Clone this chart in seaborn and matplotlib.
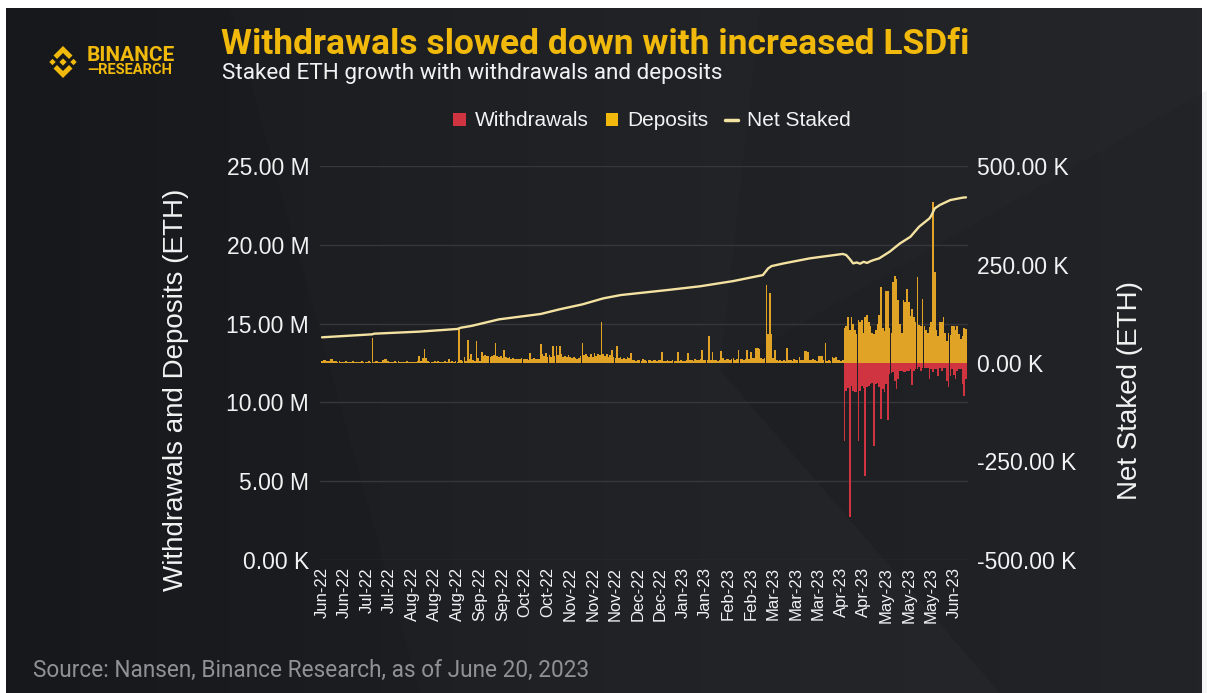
import numpy as np
import pandas as pd
import matplotlib
matplotlib.use("Agg")
import matplotlib.pyplot as plt
from matplotlib.patches import Polygon, Patch
from matplotlib.lines import Line2D
from matplotlib.colors import LinearSegmentedColormap
import seaborn as sns

# ---------------------------------------------------------------- data
start_date = "2022-06-14"
end_date = "2023-06-20"
withdrawals_start = "2023-04-11"

# daily deposits, thousand ETH (Jun 14, 2022 -> Jun 20, 2023)
deposits_k = [
    # Jun 14 - Jul 13
    6, 7, 8, 5, 4, 9, 10, 6, 5, 3, 4, 3, 2, 3, 4, 3, 2, 3, 4, 2,
    3, 3, 2, 4, 3, 2, 3, 4, 3, 63,
    # Jul 14 - Aug 12
    3, 4, 5, 2, 3, 8, 10, 9, 4, 3, 2, 3, 5, 3, 4, 3, 2, 3, 2, 4,
    3, 2, 3, 2, 3, 4, 17, 6, 12, 35,
    # Aug 13 - Sep 1
    12, 4, 3, 2, 3, 5, 3, 4, 3, 2, 3, 4, 3, 11, 3, 4, 3, 5, 2, 89,
    # Sep 2 - Sep 22
    8, 5, 15, 6, 58, 10, 23, 8, 6, 55, 12, 6, 27, 18, 20, 17, 19, 15, 18, 20,
    52,
    # Sep 23 - Nov 1
    18, 15, 17, 12, 32, 14, 12, 16, 10, 12, 9, 10, 11, 9, 12, 10, 11, 9, 8, 25,
    10, 12, 11, 9, 10, 49, 22, 18, 25, 16, 20, 14, 44, 18, 44, 20, 42, 22, 15, 18,
    # Nov 2 - Dec 1
    16, 20, 14, 12, 16, 12, 10, 13, 18, 51, 20, 24, 18, 14, 22, 16, 25, 18, 22, 20,
    103, 24, 18, 22, 15, 20, 33, 14, 12, 44,
    # Dec 2 - Jan 10
    12, 14, 10, 13, 11, 15, 12, 25, 8, 7, 6, 8, 7, 6, 9, 7, 6, 8, 7, 6,
    8, 7, 6, 7, 8, 27, 6, 5, 7, 6, 5, 8, 6, 5, 27, 6, 7, 5, 6, 8,
    # Jan 11 - Feb 19
    25, 7, 8, 6, 9, 7, 8, 9, 33, 8, 7, 8, 69, 8, 28, 7, 8, 6, 7, 30,
    12, 8, 10, 11, 7, 9, 12, 8, 9, 33, 9, 11, 8, 10, 33, 10, 28, 13, 12, 38,
    # Feb 20 - Apr 10
    38, 35, 12, 10, 12, 198, 74, 178, 74, 12, 33, 7, 6, 8, 5, 7, 6, 38, 8, 7,
    6, 9, 8, 7, 15, 8, 8, 30, 30, 28, 8, 7, 9, 8, 6, 18, 18, 17, 8, 52,
    6, 7, 6, 14, 13, 15, 7, 8, 6, 7,
    # Apr 11 - May 4
    90, 95, 116, 85, 116, 98, 83, 73, 109, 104, 109, 76, 116, 121, 104, 93,
    76, 73, 83, 98, 121, 192, 89, 80,
    # May 5 - Jun 20
    184, 182, 88, 76, 205, 222, 214, 159, 99, 76, 159, 154, 189, 154, 120,
    136, 116, 104, 218, 96, 93, 163, 93, 83, 76, 91, 104, 408, 230, 83,
    68, 103, 104, 116, 76, 55, 76, 70, 93, 93, 83, 93, 73, 60, 68, 88, 86,
]

# daily withdrawals, thousand ETH (from Apr 11, 2023)
withdrawals_k = [
    197, 71, 64, 392, 58, 71, 74, 74, 197, 71, 58, 64, 286, 61, 58, 53,
    51, 210, 53, 51, 61, 142, 67, 74, 53, 145, 27, 25, 24, 45, 66, 40,
    20, 20, 24, 24, 20, 20, 15, 56, 20, 15, 15, 10, 20, 12, 12, 12, 12,
    40, 15, 24, 15, 15, 33, 12, 20, 12, 12, 45, 60, 33, 15, 30, 40, 20,
    15, 15, 53, 83, 40,
]

# net staked ETH, millions
net_dates = [
    "2022-06-14", "2022-07-13", "2022-07-14", "2022-08-09", "2022-08-31",
    "2022-09-02", "2022-09-08", "2022-09-24", "2022-10-18", "2022-10-29",
    "2022-11-11", "2022-11-23", "2022-12-03", "2022-12-30", "2023-01-18",
    "2023-02-06", "2023-02-23", "2023-02-26", "2023-02-28", "2023-03-07",
    "2023-03-22", "2023-04-10", "2023-04-12", "2023-04-14", "2023-04-16",
    "2023-04-18", "2023-04-20", "2023-04-22", "2023-04-24", "2023-04-26",
    "2023-04-28", "2023-05-01", "2023-05-07", "2023-05-13", "2023-05-19",
    "2023-05-24", "2023-05-30", "2023-05-31", "2023-06-02", "2023-06-05",
    "2023-06-11", "2023-06-18", "2023-06-20",
]
net_staked_m = [
    14.13, 14.32, 14.36, 14.49, 14.66, 14.74, 14.85, 15.27, 15.61, 15.91,
    16.22, 16.60, 16.81, 17.13, 17.37, 17.70, 18.08, 18.50, 18.65, 18.82,
    19.14, 19.42, 19.35, 19.10, 18.82, 18.88, 18.80, 18.92, 18.85, 18.96,
    19.04, 19.14, 19.56, 20.09, 20.51, 21.15, 21.68, 21.85, 22.31, 22.53,
    22.84, 22.99, 23.01,
]

left_ticks_m = [0, 5, 10, 15, 20, 25]
right_ticks_k = [-500, -250, 0, 250, 500]
tick_step_days = 13

title = "Withdrawals slowed down with increased LSDfi"
subtitle = "Staked ETH growth with withdrawals and deposits"
source = "Source: Nansen, Binance Research, as of June 20, 2023"
left_label = "Withdrawals and Deposits (ETH)"
right_label = "Net Staked (ETH)"
legend_labels = ["Withdrawals", "Deposits", "Net Staked"]

# ---------------------------------------------------------------- colours
GOLD = "#f0b90b"
DEPOSIT = "#e0a325"
WITHDRAW = "#cf3440"
NET = "#f4e2a1"
TEXT = "#f2f2f2"
GRID = "#34373c"
SOURCE = "#8e9196"

# ---------------------------------------------------------------- frame
dates = pd.date_range(start_date, end_date, freq="D")
t0 = dates[0]
day = np.asarray((dates - t0).days)
dep = np.asarray(deposits_k, dtype=float) * 1e3
wd = np.zeros(len(dates))
w0 = (pd.Timestamp(withdrawals_start) - t0).days
wd[w0:w0 + len(withdrawals_k)] = -np.asarray(withdrawals_k, dtype=float) * 1e3
df = pd.DataFrame({"day": day, "deposits": dep, "withdrawals": wd})

net_day = np.asarray((pd.to_datetime(net_dates) - t0).days)
net = pd.DataFrame({"day": net_day, "net": np.asarray(net_staked_m) * 1e6})

sns.set_theme(style="white")
plt.rcParams["font.family"] = ["Liberation Sans", "DejaVu Sans"]

W, H = 1207, 693
fig = plt.figure(figsize=(W / 100, H / 100), dpi=100)
fig.patch.set_facecolor("white")

# backdrop layer in pixel coordinates
bg = fig.add_axes([0, 0, 1, 1])
bg.set_xlim(0, W)
bg.set_ylim(H, 0)
bg.axis("off")
bg.set_zorder(0)

grad = np.linspace(0, 1, 256)[None, :]
cmap = LinearSegmentedColormap.from_list("bgc", ["#16181b", "#1e2024", "#24262a"])
bg.imshow(grad, cmap=cmap, extent=(6, W - 5, H, 8), aspect="auto", zorder=0)
bg.add_patch(Polygon([(230, 8), (760, 8), (720, 370), (1000, 693), (420, 693)],
                     closed=True, facecolor="#ffffff", alpha=0.012, lw=0, zorder=1))
bg.add_patch(Polygon([(720, 370), (1207, 90), (1207, 693), (1000, 693)],
                     closed=True, facecolor="#000000", alpha=0.04, lw=0, zorder=1))

# logo
cx, cy = 63, 62
def diamond(x, y, r):
    return Polygon([(x, y - r), (x + r, y), (x, y + r), (x - r, y)], closed=True,
                   facecolor=GOLD, lw=0, zorder=3)
bg.add_patch(diamond(cx, cy, 3.6))
bg.add_patch(diamond(cx - 10.5, cy, 3.2))
bg.add_patch(diamond(cx + 10.5, cy, 3.2))
for s in (-1, 1):
    pts = [(0, 16), (9.5, 6.5), (6, 3), (0, 9), (-6, 3), (-9.5, 6.5)]
    bg.add_patch(Polygon([(cx + px, cy + s * py) for px, py in pts], closed=True,
                         facecolor=GOLD, lw=0, zorder=3))
bg.text(87, 55.5, "BINANCE", color=GOLD, fontsize=15, fontweight="bold",
        family=["Roboto", "DejaVu Sans"], va="center", ha="left")
bg.text(87, 70.5, "\u2014RESEARCH", color=GOLD, fontsize=10.5, fontweight="bold",
        family=["Roboto", "DejaVu Sans"], va="center", ha="left")

bg.text(221, 44, title, color=GOLD, fontsize=25.5, fontweight="bold",
        family=["Roboto", "DejaVu Sans"], va="center", ha="left")
bg.text(222, 73, subtitle, color=TEXT, fontsize=16.2,
        family=["Roboto", "DejaVu Sans"], va="center", ha="left")
bg.text(33, 670, source, color=SOURCE, fontsize=16.3,
        family=["Roboto", "DejaVu Sans"], va="center", ha="left")
bg.text(176, 390, left_label, color=TEXT, fontsize=20, rotation=90,
        va="center", ha="center")
bg.text(1130, 390, right_label, color=TEXT, fontsize=20, rotation=90,
        va="center", ha="center")

handles = [Patch(facecolor=WITHDRAW, edgecolor="none"),
           Patch(facecolor=GOLD, edgecolor="none"),
           Line2D([0], [0], color=NET, lw=2.5)]
leg = bg.legend(handles, legend_labels, loc="center", bbox_to_anchor=(652, 121),
                bbox_transform=bg.transData, ncol=3, frameon=False, fontsize=15,
                handlelength=0.6, handleheight=0.6, handletextpad=0.45,
                columnspacing=0.8, labelcolor=TEXT)

# ---------------------------------------------------------------- chart
px_day = 1.736
left_px, right_px = 322 - px_day, 966 + px_day
ax = fig.add_axes([left_px / W, 1 - 560 / H, (right_px - left_px) / W, 394 / H])
ax.set_zorder(2)
ax.patch.set_visible(False)

ylim_bar = (right_ticks_k[0] * 1e3, right_ticks_k[-1] * 1e3)
ylim_net = (left_ticks_m[0] * 1e6, left_ticks_m[-1] * 1e6)

# horizontal guides at the left-axis ticks
for v in left_ticks_m:
    frac = (v * 1e6 - ylim_net[0]) / (ylim_net[1] - ylim_net[0])
    ax.axhline(ylim_bar[0] + frac * (ylim_bar[1] - ylim_bar[0]), color=GRID,
               lw=1.0, zorder=0)

sns.barplot(data=df, x="day", y="deposits", native_scale=True, width=0.95,
            color=DEPOSIT, saturation=1, linewidth=0, errorbar=None, ax=ax)
sns.barplot(data=df, x="day", y="withdrawals", native_scale=True, width=0.95,
            color=WITHDRAW, saturation=1, linewidth=0, errorbar=None, ax=ax)

ax2 = ax.twinx()
ax2.set_zorder(3)
ax2.patch.set_visible(False)
sns.lineplot(data=net, x="day", y="net", color=NET, lw=1.7, ax=ax2)

ax.yaxis.tick_right()
ax2.yaxis.tick_left()

ax.set_xlim(-1, day[-1] + 1)
ax.set_ylim(*ylim_bar)
ax2.set_ylim(*ylim_net)

tick_days = day[::tick_step_days]
ax.set_xticks(tick_days)
ax.set_xticklabels([d.strftime("%b-%y") for d in dates[::tick_step_days]],
                   rotation=90, fontsize=12, color=TEXT)

ax.set_yticks([v * 1e3 for v in right_ticks_k])
ax.set_yticklabels([f"{v:.2f} K" for v in right_ticks_k], fontsize=16.5, color=TEXT)
ax2.set_yticks([v * 1e6 for v in left_ticks_m])
ax2.set_yticklabels(["0.00 K" if v == 0 else f"{v:.2f} M" for v in left_ticks_m],
                    fontsize=16.5, color=TEXT)

ax.tick_params(axis="both", length=0)
ax.tick_params(axis="x", pad=5)
ax.tick_params(axis="y", pad=7)
ax2.tick_params(axis="y", length=0, pad=8)
for a in (ax, ax2):
    a.set_xlabel("")
    a.set_ylabel("")
    for sp in a.spines.values():
        sp.set_visible(False)
    a.grid(False)

fig.savefig("out.png", dpi=100, facecolor=fig.get_facecolor())
